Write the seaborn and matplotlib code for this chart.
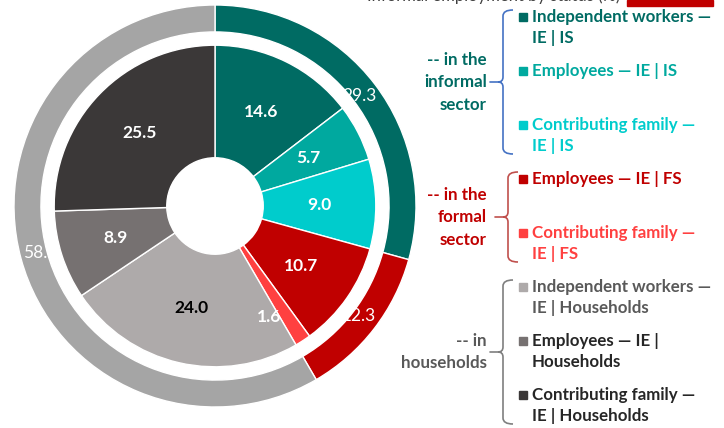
import matplotlib
matplotlib.use("Agg")
import matplotlib.pyplot as plt
import seaborn as sns
from matplotlib.path import Path
from matplotlib.patches import PathPatch, Rectangle

# outer ring: sector shares
sector_values = [29.3, 12.3, 58.4]
sector_colors = ["#006b63", "#c00000", "#a5a5a5"]

# inner ring: status within sector
status_values = [14.6, 5.7, 9.0, 10.7, 1.6, 24.0, 8.9, 25.5]
status_colors = ["#006b63", "#00a99f", "#00cccc", "#c00000", "#ff4040",
                 "#aeaaaa", "#767171", "#3b3838"]
status_text_colors = ["white"] * 5 + ["black", "white", "white"]

legend_labels = [
    ["Independent workers —", "IE | IS"],
    ["Employees — IE | IS"],
    ["Contributing family —", "IE | IS"],
    ["Employees — IE | FS"],
    ["Contributing family —", "IE | FS"],
    ["Independent workers —", "IE | Households"],
    ["Employees — IE |", "Households"],
    ["Contributing family —", "IE | Households"],
]
legend_text_colors = ["#006b63", "#00a99f", "#00cccc", "#c00000", "#ff4040",
                      "#595959", "#262626", "#262626"]

group_labels = [["-- in the", "informal", "sector"],
                ["-- in the", "formal", "sector"],
                ["-- in", "households"]]
group_colors = ["#006b63", "#c00000", "#595959"]
brace_colors = ["#4472c4", "#c0504d", "#7f7f7f"]
group_items = [(0, 2), (3, 4), (5, 7)]

sns.set_theme(style="white")
plt.rcParams["font.family"] = ["Lato", "DejaVu Sans"]

W, H = 724, 428
fig = plt.figure(figsize=(W / 100, H / 100), dpi=100)

# donut axes (outer radius = 1)
cx, cy, R = 215, 206, 201
ax = fig.add_axes([(cx - R) / W, (H - cy - R) / H, 2 * R / W, 2 * R / H])

_, _, outer_txt = ax.pie(
    sector_values, radius=1.0, colors=sector_colors, startangle=90,
    counterclock=False, autopct="%.1f", pctdistance=0.90,
    wedgeprops=dict(width=0.134, edgecolor="white", linewidth=1),
    textprops=dict(color="white", fontsize=12.5))

wedges, _, inner_txt = ax.pie(
    status_values, radius=0.80, colors=status_colors, startangle=90,
    counterclock=False, autopct="%.1f", pctdistance=0.65,
    wedgeprops=dict(width=0.56, edgecolor="white", linewidth=1),
    textprops=dict(fontsize=12.5, fontweight="bold"))
for t, c in zip(inner_txt, status_text_colors):
    t.set_color(c)
# small slice label pushed outward, next to the slice
x, y = inner_txt[4].get_position()
inner_txt[4].set_position((x * 1.2 - 0.07, y * 1.2 - 0.03))

ax.set_xlim(-1, 1)
ax.set_ylim(-1, 1)
ax.set_aspect("equal")
ax.axis("off")

# overlay in pixel coordinates for legend / braces
ov = fig.add_axes([0, 0, 1, 1])
ov.set_xlim(0, W)
ov.set_ylim(H, 0)
ov.axis("off")
ov.patch.set_alpha(0)

# title, cropped at the top edge as in the source image
ov.text(620, 0.5, "Informal employment by status (%)", ha="right", va="baseline",
        fontsize=12, color="#404040")
ov.add_patch(Rectangle((627, 0), 86, 6, color="#c00000"))

item_y0, item_step, line_step = 17, 54, 21
for i, (lines, col) in enumerate(zip(legend_labels, legend_text_colors)):
    y = item_y0 + item_step * i
    ov.add_patch(Rectangle((519, y - 4), 8, 8, color=status_colors[i]))
    for k, line in enumerate(lines):
        ov.text(532, y + k * line_step, line, ha="left", va="center",
                fontsize=12.2, fontweight="bold", color=col)

brace_x = [503, 508, 503]
for g, (a, b) in enumerate(group_items):
    top = item_y0 + item_step * a - 7
    bot = item_y0 + item_step * b + line_step * (len(legend_labels[b]) - 1) + 8
    tip = (top + bot) / 2
    bx = brace_x[g]
    verts = [(bx + 10, top), (bx, top), (bx, top + 6),
             (bx, tip - 5), (bx, tip), (bx - 5, tip),
             (bx, tip), (bx, tip + 5),
             (bx, bot - 6), (bx, bot), (bx + 10, bot)]
    codes = [Path.MOVETO, Path.CURVE3, Path.CURVE3,
             Path.LINETO, Path.CURVE3, Path.CURVE3,
             Path.CURVE3, Path.CURVE3,
             Path.LINETO, Path.CURVE3, Path.CURVE3]
    ov.add_patch(PathPatch(Path(verts, codes), fill=False,
                           edgecolor=brace_colors[g], linewidth=1.2))
    ov.plot([bx - 13, bx - 5], [tip, tip], color=brace_colors[g], linewidth=1.2)
    n = len(group_labels[g])
    for k, line in enumerate(group_labels[g]):
        ov.text(487, tip + (k - (n - 1) / 2) * 22.5, line, ha="right", va="center",
                fontsize=12.2, fontweight="bold", color=group_colors[g])

fig.savefig("out.png", dpi=100)
